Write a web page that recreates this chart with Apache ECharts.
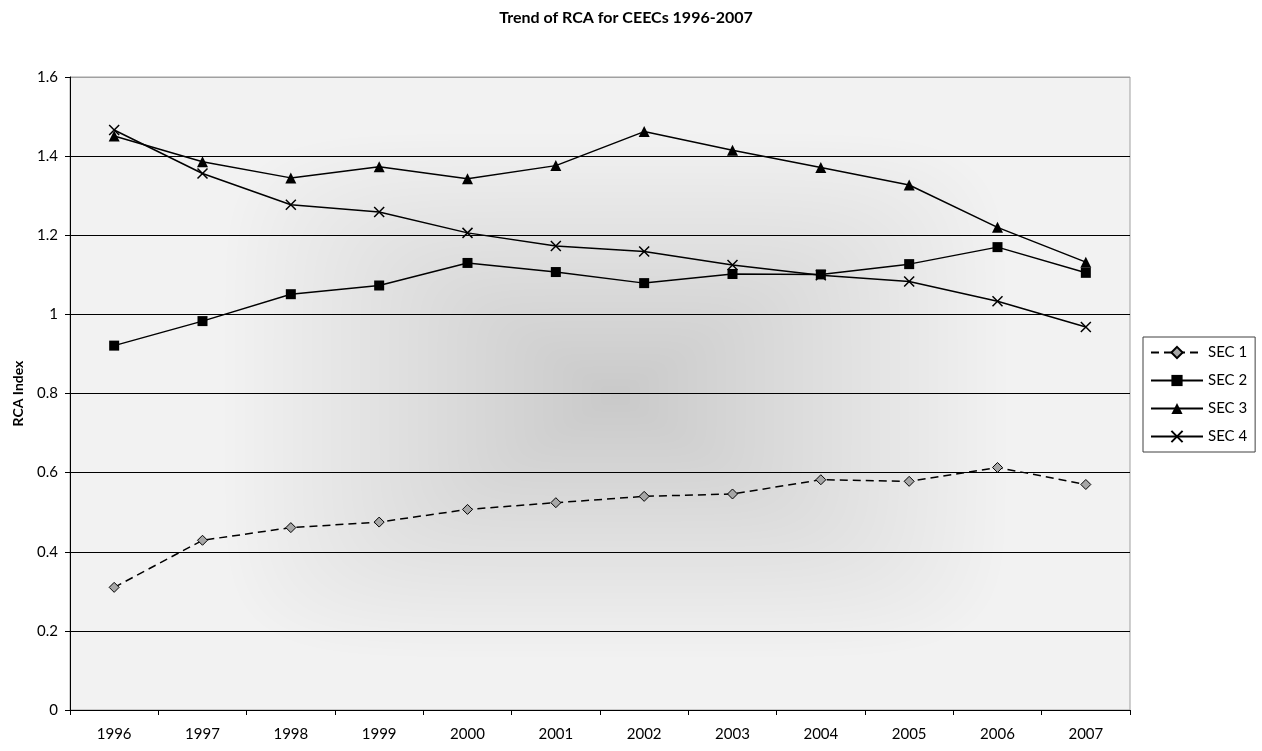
<!DOCTYPE html>
<html>
<head>
<meta charset="utf-8">
<script src="https://cdn.jsdelivr.net/npm/echarts@6/dist/echarts.min.js"></script>
<style>
  html, body { margin: 0; padding: 0; background: #fff; }
  #chart { width: 1262px; height: 751px; }
</style>
</head>
<body>
<div id="chart"></div>
<script>
// Years on the category axis
const years = ['1996', '1997', '1998', '1999', '2000', '2001', '2002', '2003', '2004', '2005', '2006', '2007'];

// RCA index per sector group
const sec1 = [0.310, 0.429, 0.461, 0.475, 0.507, 0.524, 0.540, 0.546, 0.582, 0.578, 0.613, 0.570];
const sec2 = [0.921, 0.983, 1.051, 1.073, 1.130, 1.107, 1.079, 1.102, 1.101, 1.127, 1.170, 1.105];
const sec3 = [1.451, 1.386, 1.345, 1.373, 1.343, 1.376, 1.462, 1.415, 1.371, 1.327, 1.220, 1.132];
const sec4 = [1.466, 1.356, 1.277, 1.259, 1.206, 1.173, 1.159, 1.125, 1.099, 1.083, 1.033, 0.968];

const seriesNames = ['SEC 1', 'SEC 2', 'SEC 3', 'SEC 4'];

const FONT = 'Lato, "Open Sans", sans-serif';

// Plot area in pixels
const PLOT = { left: 70, top: 77, width: 1060, height: 633 };

// Rectangular "from centre" shading for the plot background
function makeShade() {
  const w = PLOT.width, h = PLOT.height;
  const c = document.createElement('canvas');
  c.width = w; c.height = h;
  const ctx = c.getContext('2d');
  const img = ctx.createImageData(w, h);
  const cx = 615 - PLOT.left, cy = 395 - PLOT.top;
  const hw = 395, hh = 265;
  const p = 6;
  const dark = 201, light = 242;
  for (let y = 0; y < h; y++) {
    for (let x = 0; x < w; x++) {
      const dx = Math.abs(x - cx) / hw;
      const dy = Math.abs(y - cy) / hh;
      const d = Math.min(1, Math.pow(Math.pow(dx, p) + Math.pow(dy, p), 1 / p));
      const v = Math.round(dark + (light - dark) * d);
      const i = (y * w + x) * 4;
      img.data[i] = v; img.data[i + 1] = v; img.data[i + 2] = v; img.data[i + 3] = 255;
    }
  }
  ctx.putImageData(img, 0, 0);
  return c;
}

const chart = echarts.init(document.getElementById('chart'), null, { renderer: 'canvas' });

const option = {
  backgroundColor: '#ffffff',
  animation: false,
  title: {
    text: 'Trend of RCA for CEECs 1996-2007',
    left: 621,
    textAlign: 'center',
    top: 5,
    textStyle: { fontFamily: FONT, fontSize: 16, fontWeight: 'bold', color: '#000' }
  },
  graphic: {
    elements: [{
      type: 'image',
      z: -10,
      x: PLOT.left,
      y: PLOT.top,
      style: { image: makeShade(), x: 0, y: 0, width: PLOT.width, height: PLOT.height },
      silent: true
    }]
  },
  grid: {
    left: PLOT.left,
    top: PLOT.top,
    width: PLOT.width,
    height: PLOT.height,
    show: true,
    borderColor: '#a0a0a0',
    borderWidth: 1,
    backgroundColor: 'transparent'
  },
  legend: {
    orient: 'vertical',
    left: 1143,
    top: 337,
    data: seriesNames,
    padding: [8, 8, 8, 7],
    itemWidth: 52,
    itemHeight: 14,
    itemGap: 13,
    backgroundColor: '#ffffff',
    borderColor: '#404040',
    borderWidth: 1,
    borderRadius: 0,
    textStyle: { fontFamily: FONT, fontSize: 15, color: '#000' }
  },
  xAxis: {
    type: 'category',
    data: years,
    boundaryGap: true,
    axisLine: { lineStyle: { color: '#000', width: 1 } },
    axisTick: { show: true, length: 5, alignWithLabel: false, lineStyle: { color: '#000' } },
    axisLabel: { margin: 17, fontFamily: FONT, fontSize: 15, color: '#000' },
    splitLine: { show: false }
  },
  yAxis: {
    type: 'value',
    min: 0,
    max: 1.6,
    interval: 0.2,
    name: 'RCA Index',
    nameLocation: 'middle',
    nameGap: 45,
    nameTextStyle: { fontFamily: FONT, fontSize: 14, fontWeight: 'bold', color: '#000' },
    axisLine: { show: true, lineStyle: { color: '#000', width: 1 } },
    axisTick: { show: true, length: 5, lineStyle: { color: '#000' } },
    axisLabel: { margin: 12, fontFamily: FONT, fontSize: 15, color: '#000' },
    splitLine: {
      show: true,
      lineStyle: {
        color: ['#000', '#000', '#000', '#000', '#000', '#000', '#000', '#000', '#a0a0a0'],
        width: 1
      }
    }
  },
  series: [
    {
      name: 'SEC 1',
      type: 'line',
      data: sec1,
      symbol: 'diamond',
      symbolSize: 10,
      itemStyle: { color: '#a6a6a6', borderColor: '#000', borderWidth: 1 },
      lineStyle: { color: '#000', width: 1.5, type: [8, 5] },
      z: 3
    },
    {
      name: 'SEC 2',
      type: 'line',
      data: sec2,
      symbol: 'rect',
      symbolSize: 10,
      itemStyle: { color: '#000' },
      lineStyle: { color: '#000', width: 1.5 },
      z: 4
    },
    {
      name: 'SEC 3',
      type: 'line',
      data: sec3,
      symbol: 'triangle',
      symbolSize: 11,
      itemStyle: { color: '#000' },
      lineStyle: { color: '#000', width: 1.5 },
      z: 5
    },
    {
      name: 'SEC 4',
      type: 'line',
      data: sec4,
      symbol: 'path://M0,0L10,10M10,0L0,10',
      symbolSize: 10,
      itemStyle: { color: 'rgba(0,0,0,0)', borderColor: '#000', borderWidth: 1.5 },
      lineStyle: { color: '#000', width: 1.5 },
      z: 6
    }
  ]
};

chart.setOption(option);
</script>
</body>
</html>
